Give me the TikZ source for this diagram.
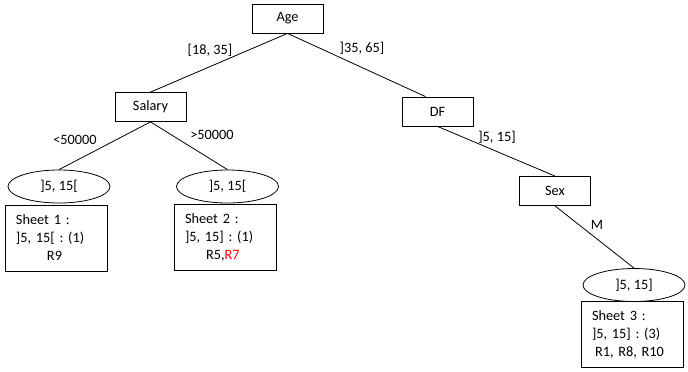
\documentclass[tikz,border=0pt]{standalone}
\usepackage{fontspec}
\setmainfont{Carlito}
\usetikzlibrary{shapes.geometric}
\begin{document}
\frenchspacing
\begin{tikzpicture}[x=1pt,y=-1pt,
  font=\fontsize{14.3}{18}\selectfont,
  attr/.style={draw,line width=0.8pt,minimum width=71pt,minimum height=29pt,inner sep=0pt},
  val/.style={draw,ellipse,line width=0.8pt,minimum width=102pt,minimum height=33pt,inner sep=0pt},
  sheet/.style={draw,line width=0.8pt,minimum width=102pt,minimum height=66pt,inner sep=0pt,align=left,text width=80pt},
  edge/.style={line width=0.8pt},
  lbl/.style={inner sep=0pt}]
\useasboundingbox (0,0) rectangle (688,372);
\node[attr] (age) at (287.5,18.5) {Age};
\node[attr] (salary) at (150.5,107) {Salary};
\node[attr] (df) at (437.5,111.5) {DF};
\node[attr] (sex) at (555,191) {Sex};
\node[val] (v1) at (59,186.5) {]5, 15[};
\node[val] (v2) at (227.5,186.5) {]5, 15[};
\node[val] (v3) at (634,285) {]5, 15]};
\node[sheet] (s1) at (56,238) {Sheet 1 :\\]5, 15[ : (1)\\\hspace*{31pt}R9};
\node[sheet] (s2) at (225,237.5) {Sheet 2 :\\]5, 15] : (1)\\\hspace*{21pt}R5,\textcolor{red}{R7}};
\node[sheet] (s3) at (632,334.5) {Sheet 3 :\\]5, 15] : (3)\\\hspace*{3pt}R1, R8, R10};
\coordinate (dfin) at ([xshift=-12pt]df.north);
\draw[edge] (age.south) -- (salary.north);
\draw[edge] (age.south) -- (dfin);
\draw[edge] (salary.south) -- (v1.north);
\draw[edge] (salary.south) -- (v2.north);
\draw[edge] (df.south) -- (sex.north);
\draw[edge] (sex.south) -- (v3.north);
\node[lbl] (l1) at (210,50) {[18, 35]};
\node[lbl] (l2) at (362,48) {]35, 65]};
\node[lbl] (l3) at (75,140) {<50000};
\node[lbl] (l4) at (212,135) {>50000};
\node[lbl] (l5) at (497,137) {]5, 15]};
\node[lbl] (l6) at (597,225) {M};
\end{tikzpicture}
\end{document}
